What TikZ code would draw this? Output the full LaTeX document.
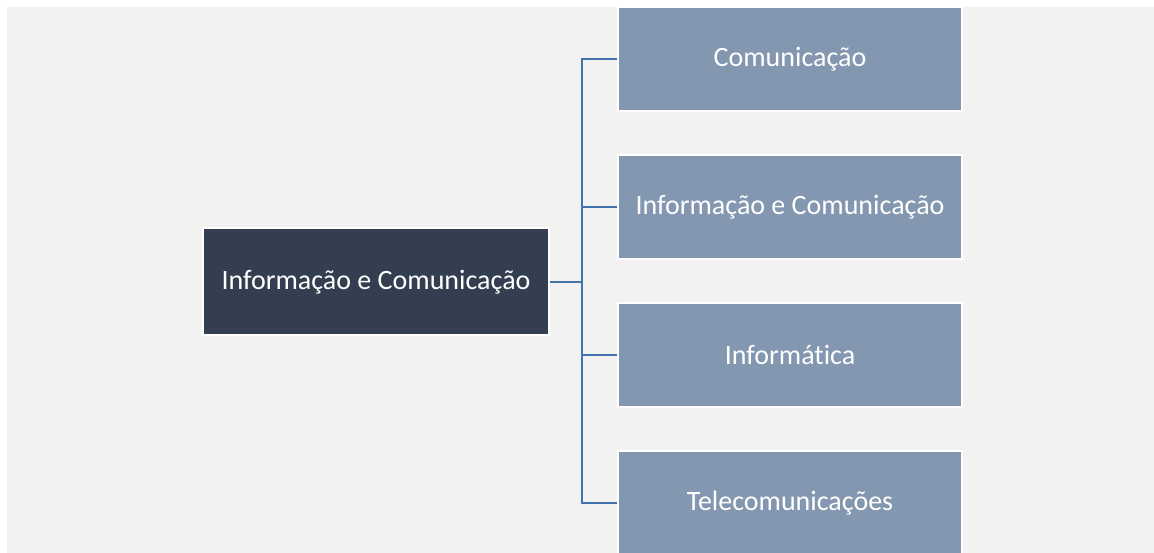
\documentclass[tikz,border=0pt]{standalone}
\usepackage{fontspec}
\setmainfont{Carlito}[Ligatures=NoCommon]
\usetikzlibrary{positioning}
\definecolor{bgGray}{HTML}{F2F2F2}
\definecolor{rootFill}{HTML}{333F50}
\definecolor{leafFill}{HTML}{8497B0}
\definecolor{linkBlue}{HTML}{4374AC}
\tikzset{
  root/.style  = {rectangle, draw=white, line width=2pt, fill=rootFill,
                  minimum width=346pt, minimum height=107pt, align=center,
                  text=white, font=\fontsize{28}{32}\selectfont, inner sep=0pt},
  leaf/.style  = {rectangle, draw=white, line width=2pt, fill=leafFill,
                  minimum width=344pt, minimum height=104pt, align=center,
                  text=white, font=\fontsize{28}{32}\selectfont, inner sep=0pt},
  link/.style  = {draw=linkBlue, line width=2.2pt},
}
\begin{document}
\begin{tikzpicture}[x=1pt, y=-1pt]
  \useasboundingbox (0,0) rectangle (1154,553);
  \fill[bgGray] (7,7) rectangle (1154,553);

  \node[root] (info) at (376,282) {Informação e Comunicação};
  \node[leaf] (com)  at (790,59)  {Comunicação};
  \node[leaf] (ic)   at (790,207) {Informação e Comunicação};
  \node[leaf] (inf)  at (790,355) {Informática};
  \node[leaf] (tel)  at (790,503) {Telecomunicações};

  \coordinate (trunk) at (582,282);
  \draw[link] (info.east) -- (trunk);
  \draw[link] (trunk) |- (com.west);
  \draw[link] (trunk) |- (ic.west);
  \draw[link] (trunk) |- (inf.west);
  \draw[link] (trunk) |- (tel.west);
\end{tikzpicture}
\end{document}
